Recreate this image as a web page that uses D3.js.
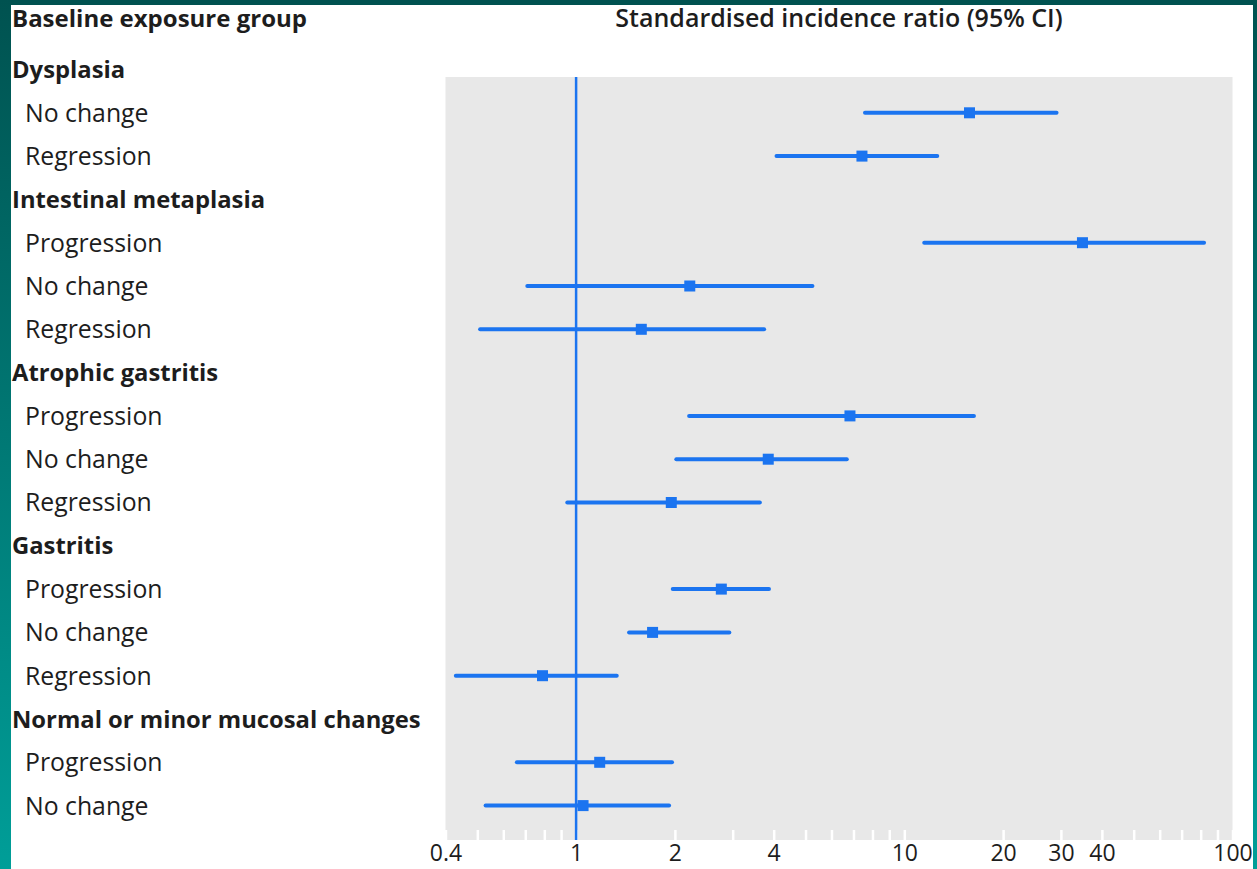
<!DOCTYPE html>
<html>
<head>
<meta charset="utf-8">
<script src="https://cdn.jsdelivr.net/npm/d3@7"></script>
<style>
  body { margin: 0; background: #fff; }
  svg text { font-family: "Open Sans", sans-serif; fill: #1d1d1d; }
</style>
</head>
<body>
<div id="chart"></div>
<script>
// Forest plot data: standardised incidence ratio with 95% CI
const groupNames = ["Dysplasia", "Intestinal metaplasia", "Atrophic gastritis", "Gastritis", "Normal or minor mucosal changes"];
const subgroupNames = [
    ["No change", "Regression"],
    ["Progression", "No change", "Regression"],
    ["Progression", "No change", "Regression"],
    ["Progression", "No change", "Regression"],
    ["Progression", "No change"]
];
// flattened in the same order as subgroupNames
const sir   = [15.8, 7.43, 34.9, 2.22, 1.58, 6.83, 3.85, 1.95, 2.77, 1.71, 0.79, 1.18, 1.05];
const lower = [7.59, 4.08, 11.5, 0.71, 0.51, 2.21, 2.02, 0.94, 1.97, 1.45, 0.43, 0.66, 0.53];
const upper = [29.1, 12.6, 81.9, 5.25, 3.74, 16.3, 6.68, 3.63, 3.87, 2.93, 1.33, 1.96, 1.92];
const tickValues = [0.4, 0.5, 0.6, 0.7, 0.8, 0.9, 1, 2, 3, 4, 5, 6, 7, 8, 9, 10, 20, 30, 40, 50, 60, 70, 80, 90, 100];
const tickLabels = [0.4, 1, 2, 4, 10, 20, 30, 40, 100];

const width = 1257, height = 869;
const blue = "#1b74f0";
const panel = { left: 445.5, right: 1232.5, top: 77, bottom: 840 };

// build row list
const rows = [];
let k = 0;
groupNames.forEach((g, gi) => {
    rows.push({ label: g, group: true });
    subgroupNames[gi].forEach(s => {
        rows.push({ label: s, group: false, est: sir[k], lo: lower[k], hi: upper[k] });
        k++;
    });
});

const svg = d3.select("#chart").append("svg")
    .attr("width", width)
    .attr("height", height);

// frame decoration
const defs = svg.append("defs");
const grad = defs.append("linearGradient").attr("id", "frame").attr("x1", 0).attr("y1", 0).attr("x2", 0).attr("y2", 1);
grad.append("stop").attr("offset", "0%").attr("stop-color", "#005250");
grad.append("stop").attr("offset", "100%").attr("stop-color", "#009e98");
svg.append("rect").attr("x", 0).attr("y", 0).attr("width", width).attr("height", 5).attr("fill", "#005250");
svg.append("rect").attr("x", 0).attr("y", 0).attr("width", 11).attr("height", height).attr("fill", "url(#frame)");
svg.append("rect").attr("x", 1253).attr("y", 0).attr("width", 4).attr("height", height).attr("fill", "url(#frame)");

const x = d3.scaleLog()
    .domain([0.4, 100])
    .range([panel.left, panel.right]);

const y = d3.scalePoint()
    .domain(d3.range(rows.length))
    .range([69.5, 805.6]);

// grey panel
svg.append("rect")
    .attr("x", panel.left)
    .attr("y", panel.top)
    .attr("width", panel.right - panel.left)
    .attr("height", panel.bottom - panel.top)
    .attr("fill", "#e8e8e8");

// axis with white ticks inside panel
const axis = svg.append("g")
    .attr("transform", `translate(0,${panel.bottom})`)
    .call(d3.axisBottom(x)
        .tickValues(tickValues)
        .tickSize(-10)
        .tickPadding(5)
        .tickFormat(d => tickLabels.includes(d) ? String(d) : ""));
axis.select(".domain").remove();
axis.selectAll(".tick line").attr("stroke", "#fff").attr("stroke-width", 2.5);
axis.selectAll(".tick text")
    .style("font-size", "23px")
    .style("font-family", "'Open Sans', sans-serif")
    .attr("fill", "#1d1d1d");

// reference line at 1
svg.append("line")
    .attr("x1", x(1)).attr("x2", x(1))
    .attr("y1", panel.top).attr("y2", panel.bottom)
    .attr("stroke", blue)
    .attr("stroke-width", 2.5);

// headers
svg.append("text")
    .attr("x", 12).attr("y", 27)
    .style("font-size", "24px").style("font-weight", "700")
    .text("Baseline exposure group");
svg.append("text")
    .attr("x", (panel.left + panel.right) / 2).attr("y", 27)
    .attr("text-anchor", "middle")
    .style("font-size", "25px").style("font-weight", "600")
    .text("Standardised incidence ratio (95% CI)");

// row labels
svg.append("g")
    .selectAll("text")
    .data(rows)
    .join("text")
    .attr("x", d => d.group ? 12 : 25)
    .attr("y", (d, i) => y(i))
    .attr("dy", "0.36em")
    .style("font-size", d => d.group ? "23.8px" : "24.8px")
    .style("font-weight", d => d.group ? "700" : "400")
    .text(d => d.label);

const data = rows.map((d, i) => ({ ...d, i })).filter(d => !d.group);

// CI lines
svg.append("g")
    .selectAll("line")
    .data(data)
    .join("line")
    .attr("x1", d => x(d.lo))
    .attr("x2", d => x(d.hi))
    .attr("y1", d => y(d.i))
    .attr("y2", d => y(d.i))
    .attr("stroke", blue)
    .attr("stroke-width", 4)
    .attr("stroke-linecap", "round");

// point estimates
svg.append("g")
    .selectAll("rect")
    .data(data)
    .join("rect")
    .attr("x", d => x(d.est) - 5.5)
    .attr("y", d => y(d.i) - 5.5)
    .attr("width", 11)
    .attr("height", 11)
    .attr("fill", blue);
</script>
</body>
</html>
